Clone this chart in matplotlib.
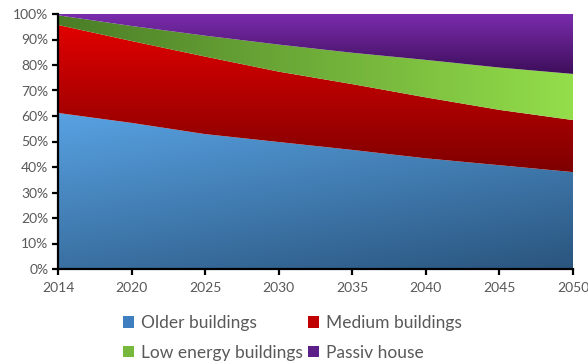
import numpy as np
import matplotlib
matplotlib.use("Agg")
import matplotlib.pyplot as plt
from matplotlib.colors import LinearSegmentedColormap
from matplotlib.patches import Patch
from matplotlib.ticker import PercentFormatter

plt.rcParams['font.family'] = ['Lato', 'DejaVu Sans']

years = ["2014", "2020", "2025", "2030", "2035", "2040", "2045", "2050"]
older = [61.2, 57.3, 52.9, 49.8, 46.7, 43.4, 40.7, 38.0]
medium = [34.5, 32.1, 30.4, 27.6, 25.8, 23.9, 21.7, 20.4]
low_energy = [3.8, 5.9, 8.2, 10.6, 12.3, 14.7, 16.6, 18.1]
passiv = [0.5, 4.7, 8.5, 12.0, 15.2, 18.0, 21.0, 23.5]
series_names = ["Older buildings", "Medium buildings", "Low energy buildings", "Passiv house"]

# gradient specs: (start colour, end colour, direction)
styles = [
    ("#58a2e3", "#2a557e", "diag"),
    ("#e20000", "#7e0000", "vert"),
    ("#4a7d27", "#94de4b", "horiz"),
    ("#7a2cad", "#3d0e5a", "vert"),
]
swatch_colors = ["#3f7fbf", "#c00000", "#76b83c", "#5c1f88"]

text_color = "#595959"

fig = plt.figure(figsize=(5.88, 3.63), dpi=100)
ax = fig.add_axes([58 / 588, 1 - 269 / 363, (573 - 58) / 588, (269 - 14) / 363])

x = np.arange(len(years))
data = np.array([older, medium, low_energy, passiv]) / 100.0
tops = np.cumsum(data, axis=0)
bottoms = tops - data


def gradient_image(c1, c2, direction, n=256):
    cmap = LinearSegmentedColormap.from_list("g", [c1, c2])
    u = np.linspace(0, 1, n)
    X, Y = np.meshgrid(u, u)  # Y: 0 at top row
    if direction == "vert":
        g = Y
    elif direction == "horiz":
        g = X
    else:
        g = 0.35 * X + 0.65 * Y
    return cmap(g)


for i, (c1, c2, d) in enumerate(styles):
    poly = ax.fill_between(x, bottoms[i], tops[i], facecolor="none", edgecolor="none", lw=0)
    y0 = bottoms[i].min()
    y1 = tops[i].max()
    img = gradient_image(c1, c2, d)
    im = ax.imshow(img, extent=[x[0], x[-1], y0, y1], origin="upper",
                   aspect="auto", interpolation="bicubic", zorder=1)
    im.set_clip_path(poly.get_paths()[0], transform=ax.transData)

ax.axhline(1.0, color="#d4d4d4", lw=1.3, zorder=0.5)

ax.set_xlim(x[0], x[-1])
ax.set_ylim(0, 1.0)
ax.set_xticks(x)
ax.set_xticklabels(years)
ax.set_yticks(np.linspace(0, 1, 11))
ax.yaxis.set_major_formatter(PercentFormatter(1.0, decimals=0))

for s in ["top", "right"]:
    ax.spines[s].set_visible(False)
for s in ["left", "bottom"]:
    ax.spines[s].set_linewidth(1.6)
    ax.spines[s].set_color("black")
    ax.spines[s].set_zorder(5)

ax.tick_params(axis="both", direction="out", length=4, width=1.6, color="black",
               labelcolor=text_color, labelsize=10)
ax.tick_params(axis="y", pad=3)
ax.tick_params(axis="x", pad=5)

handles = [Patch(facecolor=c, edgecolor="none", label=n)
           for c, n in zip(swatch_colors, series_names)]
# row-major order for a two-column legend
order = [0, 2, 1, 3]
handles = [handles[k] for k in order]

leg = fig.legend(handles=handles, loc="upper left", ncol=2,
                 bbox_to_anchor=(123 / 588, 1 - 315 / 363), frameon=False,
                 fontsize=12.5, handlelength=0.62, handleheight=0.62, handletextpad=0.4,
                 columnspacing=0.3, labelspacing=0.8, borderaxespad=0, borderpad=0)
for t in leg.get_texts():
    t.set_color(text_color)

fig.savefig("out.png", dpi=100)
